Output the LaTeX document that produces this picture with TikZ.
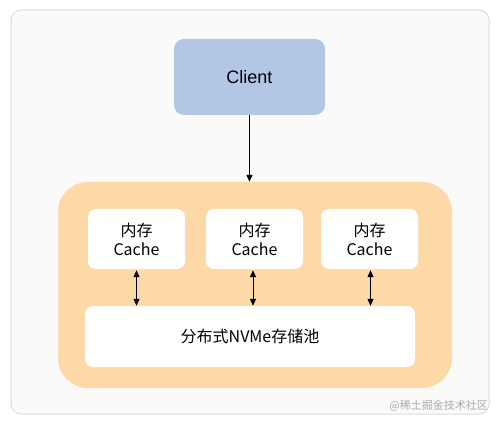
\documentclass[tikz,border=0pt]{standalone}
\usepackage{fontspec}
\setmainfont{Liberation Sans}
\newfontfamily\cjk{Noto Sans CJK SC}
\usetikzlibrary{arrows.meta}
\definecolor{framegray}{HTML}{DDDDDD}
\definecolor{framefill}{HTML}{FAFAFA}
\definecolor{clientblue}{HTML}{B2C6E6}
\definecolor{poolorange}{HTML}{FDD9A8}
\definecolor{wmgray}{HTML}{AAAAAA}
\tikzset{
  box/.style={inner sep=0pt, align=center},
  cachebox/.style={box, fill=white, rounded corners=8pt, minimum width=97pt, minimum height=60pt, font=\cjk\fontsize{16}{19}\selectfont},
  conn/.style={line width=1pt, -{Triangle[length=7pt,width=6pt]}},
  biconn/.style={line width=1pt, {Triangle[length=7pt,width=6pt]}-{Triangle[length=7pt,width=6pt]}}
}
\begin{document}
\begin{tikzpicture}[x=1pt,y=-1pt]
\useasboundingbox (0,0) rectangle (501,425);
\node[box, draw=framegray, line width=1pt, fill=framefill, rounded corners=10pt, minimum width=478pt, minimum height=404pt] (frame) at (250,212) {};
\node[box, fill=clientblue, rounded corners=10pt, minimum width=151pt, minimum height=76pt, font=\fontsize{18}{20}\selectfont] (client) at (249.5,77) {Client};
\node[box, fill=poolorange, rounded corners=30pt, minimum width=394pt, minimum height=206pt] (group) at (255,285) {};
\node[cachebox] (c1) at (136.5,239) {内存\\Cache};
\node[cachebox] (c2) at (254.5,239) {内存\\Cache};
\node[cachebox] (c3) at (369.5,239) {内存\\Cache};
\node[box, fill=white, rounded corners=8pt, minimum width=330pt, minimum height=61pt, font=\cjk\fontsize{16}{19}\selectfont] (pool) at (250,336.5) {分布式NVMe存储池};
\draw[conn] (client.south) -- (client.south |- group.north);
\draw[biconn] (c1.south) ++(0,1) -- (c1.south |- pool.north);
\draw[biconn] (c2.south) ++(-1.5,1) coordinate (c2s) -- (c2s |- pool.north);
\draw[biconn] (c3.south) ++(1,1) coordinate (c3s) -- (c3s |- pool.north);
\node[anchor=east, inner sep=0pt, text=wmgray, font=\cjk\fontsize{11}{12}\selectfont] (wm) at (488,406) {@稀土掘金技术社区};
\end{tikzpicture}
\end{document}
